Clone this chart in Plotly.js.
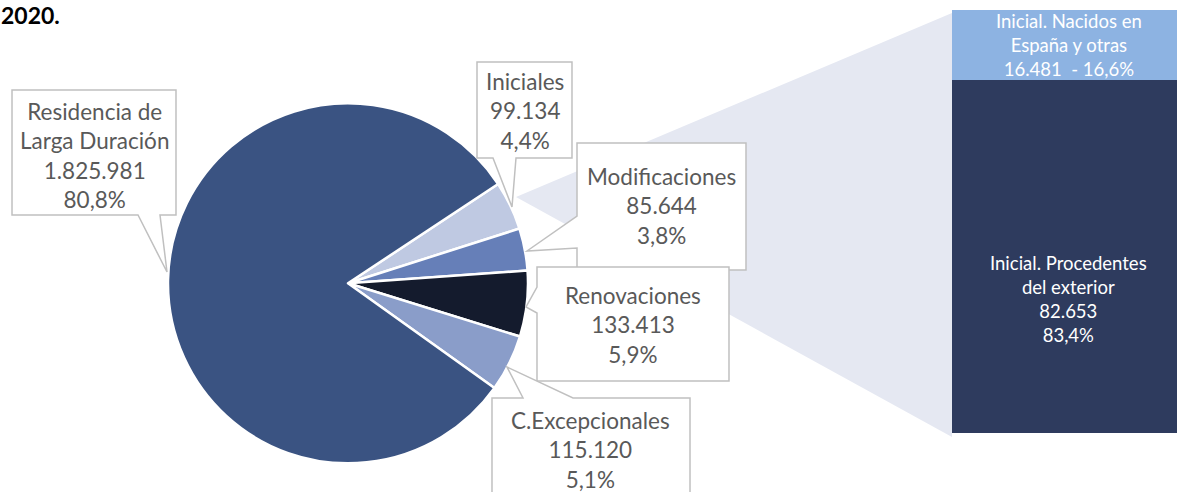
<!DOCTYPE html>
<html>
<head>
<meta charset="utf-8">
<script src="https://cdn.plot.ly/plotly-3.0.1.min.js"></script>
<style>
html,body{margin:0;padding:0;background:#fff;}
#chart{width:1177px;height:492px;}
</style>
</head>
<body>
<div id="chart"></div>
<script>
// ---- data ----
const categories = ['Iniciales', 'Modificaciones', 'Renovaciones', 'C.Excepcionales', 'Residencia de Larga Duración'];
const categoryLines = ['Iniciales', 'Modificaciones', 'Renovaciones', 'C.Excepcionales', 'Residencia de<br>Larga Duración'];
const values = [99134, 85644, 133413, 115120, 1825981];
const sliceColors = ['#bfc9e2', '#667fb8', '#141b2d', '#8a9dc9', '#3a5382'];

const barCategories = ['Inicial. Procedentes del exterior', 'Inicial. Nacidos en España y otras'];
const barLines = ['Inicial. Procedentes<br>del exterior', 'Inicial. Nacidos en<br>España y otras'];
const barValues = [82653, 16481];
const barColors = ['#2e3b5e', '#8db3e2'];

const titleText = '2020.';

// ---- helpers ----
const W = 1177, H = 492;
const px = x => x / W;
const py = y => 1 - y / H;
function fmtInt(v) {
  return String(v).replace(/\B(?=(\d{3})+(?!\d))/g, '.');
}
function fmtPct(v, tot) {
  return (100 * v / tot).toFixed(1).replace('.', ',') + '%';
}
function path(pts) {
  return 'M' + pts.map(p => px(p[0]).toFixed(5) + ',' + py(p[1]).toFixed(5)).join(' L') + ' Z';
}

const total = values.reduce((a, b) => a + b, 0);
const barTotal = barValues.reduce((a, b) => a + b, 0);

// ---- traces ----
const pieCx = 348, pieCy = 283.3, pieR = 180;
const pie = {
  type: 'pie',
  labels: categories,
  values: values,
  sort: false,
  direction: 'clockwise',
  rotation: 56.5,
  textinfo: 'none',
  hoverinfo: 'label+value+percent',
  marker: {colors: sliceColors, line: {color: '#ffffff', width: 2.5}},
  domain: {x: [px(pieCx - pieR), px(pieCx + pieR)], y: [py(pieCy + pieR), py(pieCy - pieR)]},
  showlegend: false
};

const bars = barValues.map((v, i) => ({
  type: 'bar',
  x: [0],
  y: [v],
  width: 1,
  name: barCategories[i],
  marker: {color: barColors[i], line: {width: 0}},
  hoverinfo: 'name+y',
  showlegend: false
}));

// ---- layout decorations ----
const gray = '#595959';
const lineCol = '#c0c0c0';
const lblFont = {family: 'Lato, "Noto Sans", sans-serif', size: 22.5, color: gray};

const callouts = [
  // Iniciales
  {pts: [[477,62],[572,62],[572,158],[516,158],[512,207],[493,158],[477,158]], cx: 525, cy: 111},
  // Modificaciones
  {pts: [[577,143],[746,143],[746,270],[577,270],[577,248],[527,251],[577,216]], cx: 661, cy: 206.5},
  // Renovaciones
  {pts: [[537,267],[729,267],[729,381],[537,381],[537,313],[526,307],[537,287]], cx: 633, cy: 325},
  // C.Excepcionales
  {pts: [[492,398],[523,398],[507,367],[573,398],[690,398],[690,500],[492,500]], cx: 590, cy: 449.5},
  // Residencia
  {pts: [[12,90],[176,90],[176,215],[160,215],[167,272],[138,215],[12,215]], cx: 94, cy: 155}
];

const shapes = [
  {type: 'path', xref: 'paper', yref: 'paper', layer: 'below',
   path: path([[516,197],[952,13],[952,437]]),
   fillcolor: '#e5e8f2', line: {width: 0}}
];
// draw order: Residencia, Iniciales, Modificaciones, Renovaciones, C.Excepcionales
[4, 0, 1, 2, 3].forEach(i => {
  shapes.push({type: 'path', xref: 'paper', yref: 'paper', layer: 'above',
    path: path(callouts[i].pts), fillcolor: '#ffffff', line: {color: lineCol, width: 1.5}});
});

const annotations = [];
categories.forEach((c, i) => {
  annotations.push({
    xref: 'paper', yref: 'paper', x: px(callouts[i].cx), y: py(callouts[i].cy),
    xanchor: 'center', yanchor: 'middle', showarrow: false, align: 'center',
    text: categoryLines[i] + '<br>' + fmtInt(values[i]) + '<br>' + fmtPct(values[i], total),
    font: lblFont
  });
});

// bar labels
let cum = 0;
const barTextShift = [-42, 0];
barValues.forEach((v, i) => {
  const mid = cum + v / 2;
  cum += v;
  const txt = i === 0
    ? barLines[i] + '<br>' + fmtInt(v) + '<br>' + fmtPct(v, barTotal)
    : barLines[i] + '<br>' + fmtInt(v) + '  - ' + fmtPct(v, barTotal);
  annotations.push({
    xref: 'x', yref: 'y', x: 0, y: mid, yshift: barTextShift[i],
    xanchor: 'center', yanchor: 'middle', showarrow: false, align: 'center',
    text: txt, font: {family: 'Lato, "Noto Sans", sans-serif', size: 18.5, color: '#ffffff'}
  });
});

annotations.push({
  xref: 'paper', yref: 'paper', x: 0, y: 1,
  xanchor: 'left', yanchor: 'top', showarrow: false, borderpad: 0,
  text: '<b>' + titleText + '</b>',
  font: {family: 'Lato, "Noto Sans", sans-serif', size: 23, color: '#000000'}
});

const layout = {
  width: W, height: H,
  margin: {l: 0, r: 0, t: 0, b: 0, pad: 0},
  paper_bgcolor: '#ffffff',
  plot_bgcolor: 'rgba(0,0,0,0)',
  barmode: 'stack',
  bargap: 0,
  showlegend: false,
  xaxis: {domain: [px(952), 1], range: [-0.5, -0.5 + 225 / 233], visible: false, fixedrange: true},
  yaxis: {domain: [py(433), py(10)], range: [0, barTotal], visible: false, fixedrange: true},
  shapes: shapes,
  annotations: annotations
};

Plotly.newPlot('chart', [pie].concat(bars), layout, {displayModeBar: false, staticPlot: true});
</script>
</body>
</html>
